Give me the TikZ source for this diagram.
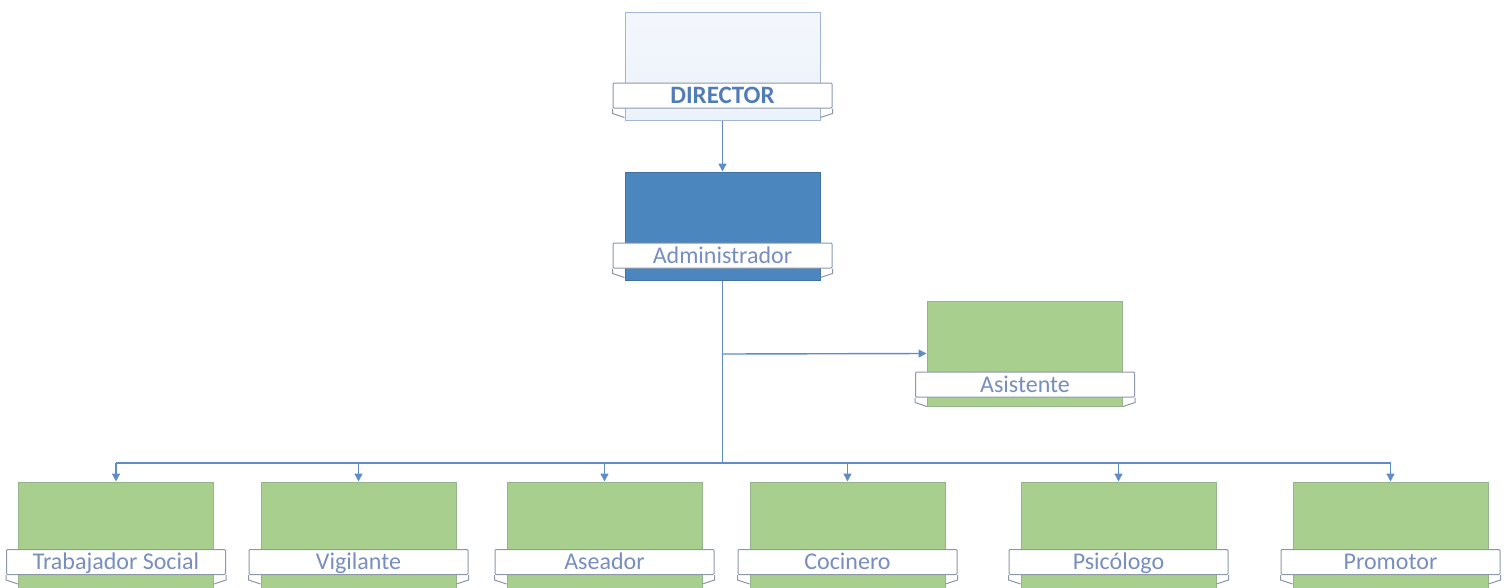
\documentclass[tikz,border=0pt]{standalone}
\usepackage{fontspec}
\setmainfont{Carlito}
\usetikzlibrary{arrows.meta}
\definecolor{lineblue}{RGB}{96,140,200}
\definecolor{txtblue}{RGB}{120,142,190}
\definecolor{dirblue}{RGB}{80,125,185}
\definecolor{admfill}{RGB}{76,134,190}
\definecolor{grnfill}{RGB}{168,207,142}
\definecolor{grnline}{RGB}{150,180,140}
\definecolor{dirfill}{RGB}{236,242,251}
\definecolor{dirline}{RGB}{160,182,212}
\definecolor{bandline}{RGB}{140,152,170}
\tikzset{
  card/.style={rectangle, minimum width=195pt, minimum height=108pt, inner sep=0pt},
  grncard/.style={card, fill=grnfill, draw=grnline, line width=1pt},
  band/.style={rectangle, minimum width=219pt, minimum height=25pt, inner sep=0pt,
     text height=15pt, text depth=0pt,
     fill=white, draw=bandline, line width=1pt, rounded corners=1pt,
     font=\fontsize{24}{26}\selectfont, text=txtblue},
  conn/.style={draw=lineblue, line width=1.4pt},
  arr/.style={conn, -{Triangle[length=8pt,width=8pt]}},
}
\newcommand{\ribbon}[1]{%
  \draw[bandline, line width=1pt] (#1.south west) -- ++(0,5) -- ++(12,4);
  \draw[bandline, line width=1pt] (#1.south east) -- ++(0,5) -- ++(-12,4);}
\begin{document}
\begin{tikzpicture}[x=1pt,y=-1pt]
\useasboundingbox (0,0) rectangle (1510,587);
\clip (0,0) rectangle (1510,587);
% Director
\node[card, top color=dirfill!60!white, bottom color=dirfill, draw=dirline, line width=1pt] (dir) at (722.5,66) {};
\node[band, font=\fontsize{25}{27}\selectfont\bfseries, text=dirblue] (dirl) at (722.5,95.5) {DIRECTOR};
\ribbon{dirl}
% Administrador
\node[card, fill=admfill, draw=admfill!85!black, line width=1pt] (adm) at (722.5,226) {};
\node[band] (adml) at (722.5,255.5) {Administrador};
\ribbon{adml}
% Asistente
\node[grncard, minimum height=105pt] (asi) at (1024.5,353.5) {};
\node[band] (asil) at (1025,384.5) {Asistente};
\ribbon{asil}
% bottom row
\foreach \n/\x/\t in {b1/116/Trabajador Social, b2/358.5/Vigilante, b3/604.5/Aseador, b4/847.5/Cocinero, b5/1118.5/Psicólogo, b6/1390.5/Promotor}{
  \node[grncard] (\n) at (\x,536) {};
  \node[band] (\n l) at (\x,562) {\t};
  \ribbon{\n l}
}
% connectors
\coordinate (bus) at (722.5,463);
\coordinate (br) at (722.5,354);
\draw[arr] (dir.south) -- (adm.north);
\draw[conn] (adm.south) -- (bus);
\draw[arr] (br) -- (asi.west);
\draw[conn] (b1.north |- bus) -- (b6.north |- bus);
\foreach \n in {b1,b2,b3,b4,b5,b6}{
  \draw[arr] (\n.north |- bus) -- (\n.north);
}
\end{tikzpicture}
\end{document}
